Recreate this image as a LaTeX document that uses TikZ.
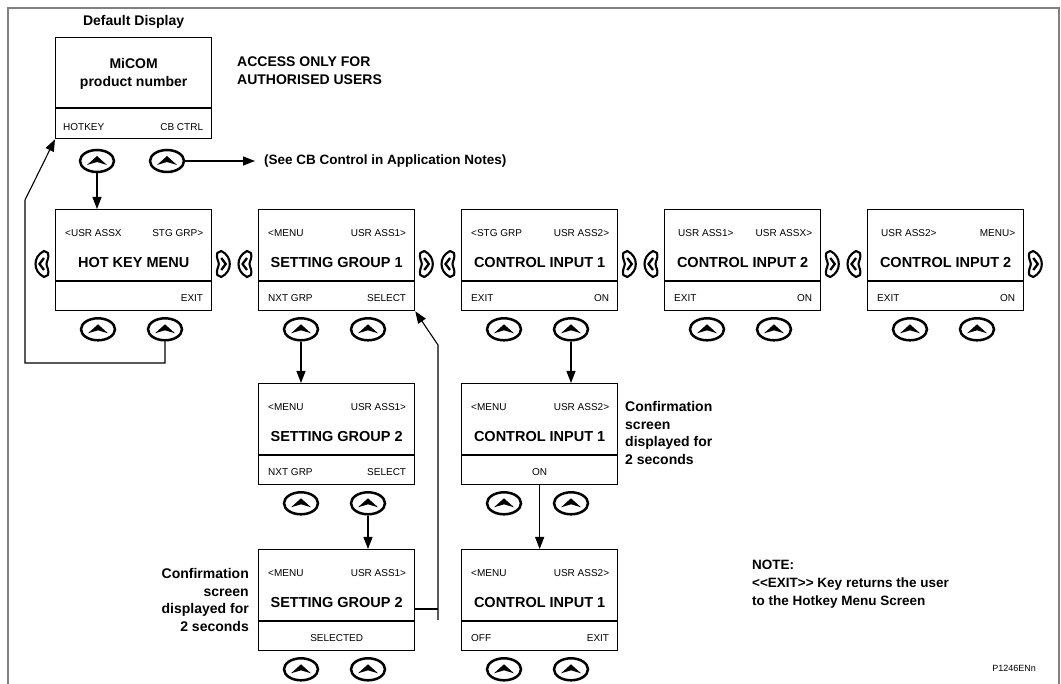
\documentclass[tikz,border=0pt]{standalone}
\usepackage{fontspec}
\setmainfont{Liberation Sans}
\usetikzlibrary{shapes.geometric,arrows.meta,calc}
\tikzset{
  keyline/.style={line width=2.1pt, line join=round, line cap=round},
  rkey/.pic={
    \draw[keyline] (-5pt,11pt) -- (-1pt,13pt) .. controls (5pt,10pt) and (7.5pt,5pt) .. (7.5pt,0pt)
      .. controls (7.5pt,-5pt) and (5pt,-10pt) .. (-1pt,-13pt) -- (-5pt,-11pt)
      .. controls (-6.5pt,-6pt) and (-3.5pt,-3pt) .. (-3.5pt,0pt)
      .. controls (-3.5pt,3pt) and (-6.5pt,6pt) .. (-5pt,11pt) -- cycle;
    \draw[line width=2.3pt, line join=miter] (-1pt,6pt) -- (3.5pt,0pt) -- (-1pt,-6pt);
  },
  lkey/.pic={
    \begin{scope}[xscale=-1]
    \draw[keyline] (-5pt,11pt) -- (-1pt,13pt) .. controls (5pt,10pt) and (7.5pt,5pt) .. (7.5pt,0pt)
      .. controls (7.5pt,-5pt) and (5pt,-10pt) .. (-1pt,-13pt) -- (-5pt,-11pt)
      .. controls (-6.5pt,-6pt) and (-3.5pt,-3pt) .. (-3.5pt,0pt)
      .. controls (-3.5pt,3pt) and (-6.5pt,6pt) .. (-5pt,11pt) -- cycle;
    \draw[line width=2.3pt, line join=miter] (-1pt,6pt) -- (3.5pt,0pt) -- (-1pt,-6pt);
    \end{scope}
  },
  screen/.style={draw, line width=1.3pt, anchor=north west, minimum width=156pt, minimum height=101pt, inner sep=0pt},
  small/.style={font=\fontsize{10}{12}\selectfont, inner sep=0pt},
  big/.style={font=\fontsize{14.5}{17}\selectfont\bfseries, inner sep=0pt},
  lbl/.style={font=\fontsize{14}{17.7}\selectfont\bfseries, inner sep=0pt},
  upkey/.style={ellipse, draw, line width=2.5pt, minimum width=34pt, minimum height=22pt, inner sep=0pt,
    path picture={\fill ([shift={(-10pt,-4pt)}]path picture bounding box.center) -- ++(10pt,9pt) -- ++(10pt,-9pt) -- ++(-10pt,3pt) -- cycle;}},
  conn/.style={line width=1.1pt},
  arr/.style={conn, -{Triangle[length=12pt,width=9pt]}},
}
\newcommand\mkscreen[6]{%
  \node[screen] (#1) at (#2,#3) {};
  \draw[line width=1.3pt] ($(#1.north west)+(0,72)$) -- ($(#1.north east)+(0,72)$);
  \node[small,anchor=west] (#1-tl) at ($(#1.north west)+(10,24)$) {#4};
  \node[small,anchor=east] (#1-tr) at ($(#1.north east)+(-9,24)$) {#5};
  \node[big] (#1-m) at ($(#1.north)+(0,54)$) {#6};
  \node[upkey] (#1-k1) at ($(#1.south west)+(43,18)$) {};
  \node[upkey] (#1-k2) at ($(#1.south west)+(110,18)$) {};
}
\newcommand\scrBL[2]{\node[small,anchor=west] (#1-bl) at ($(#1.north west)+(10,89)$) {#2};}
\newcommand\scrBR[2]{\node[small,anchor=east] (#1-br) at ($(#1.north east)+(-9,89)$) {#2};}
\newcommand\scrBC[2]{\node[small] (#1-bc) at ($(#1.north)+(0,89)$) {#2};}
\newcommand\sidekeys[1]{%
  \pic at ($(#1.north west)+(-12,55)$) {lkey};
  \pic at ($(#1.north east)+(10,55)$) {rkey};
}
\begin{document}
\begin{tikzpicture}[x=1pt,y=-1pt]
\useasboundingbox (0,0) rectangle (1061,684);
\draw[line width=2pt, color={rgb,255:red,128;green,128;blue,128}] (8,684) -- (8,8) -- (1059,8) -- (1059,684);

% default display
\node[screen] (def) at (55,37) {};
\draw[line width=1.3pt] ($(def.north west)+(0,71)$) -- ($(def.north east)+(0,71)$);
\node[lbl] (title) at ($(def.north)+(0,-15)$) {Default Display};
\node[lbl, align=center] (def-m) at ($(def.north)+(0,37)$) {MiCOM\\product number};
\node[small,anchor=west] (def-bl) at ($(def.north west)+(8,90)$) {HOTKEY};
\node[small,anchor=east] (def-br) at ($(def.north east)+(-9,90)$) {CB CTRL};
\node[upkey] (def-k1) at (97,161) {};
\node[upkey] (def-k2) at (167,161) {};
\node[lbl, align=left, anchor=west] (access) at (237,71) {ACCESS ONLY FOR\\AUTHORISED USERS};
\node[lbl, anchor=west, font=\fontsize{13.5}{16}\selectfont\bfseries] (cbnote) at (264,161) {(See CB Control in Application Notes)};

% row 1
\mkscreen{hk}{55}{209}{<USR ASSX}{STG GRP>}{HOT KEY MENU}
\scrBR{hk}{EXIT}
\mkscreen{sg1}{258}{209}{<MENU}{USR ASS1>}{SETTING GROUP 1}
\scrBL{sg1}{NXT GRP}\scrBR{sg1}{SELECT}
\mkscreen{ci1}{461}{209}{<STG GRP}{USR ASS2>}{CONTROL INPUT 1}
\scrBL{ci1}{EXIT}\scrBR{ci1}{ON}
\mkscreen{ci2}{664}{209}{\hspace{4pt}USR ASS1>}{USR ASSX>}{CONTROL INPUT 2}
\scrBL{ci2}{EXIT}\scrBR{ci2}{ON}
\mkscreen{ci3}{867}{209}{\hspace{4pt}USR ASS2>}{MENU>}{CONTROL INPUT 2}
\scrBL{ci3}{EXIT}\scrBR{ci3}{ON}
\sidekeys{hk}\sidekeys{sg1}\sidekeys{ci1}\sidekeys{ci2}\sidekeys{ci3}

% rows 2 and 3
\mkscreen{sg2}{258}{383}{<MENU}{USR ASS1>}{SETTING GROUP 2}
\scrBL{sg2}{NXT GRP}\scrBR{sg2}{SELECT}
\mkscreen{sgc}{258}{549}{<MENU}{USR ASS1>}{SETTING GROUP 2}
\scrBC{sgc}{SELECTED}
\mkscreen{cic}{461}{383}{<MENU}{USR ASS2>}{CONTROL INPUT 1}
\scrBC{cic}{ON}
\mkscreen{cif}{461}{549}{<MENU}{USR ASS2>}{CONTROL INPUT 1}
\scrBL{cif}{OFF}\scrBR{cif}{EXIT}

% notes
\node[lbl, align=right, anchor=east] (sgnote) at (249,600) {Confirmation\\screen\\displayed for\\2 seconds};
\node[lbl, align=left, anchor=west] (cinote) at (625,433) {Confirmation\\screen\\displayed for\\2 seconds};
\node[lbl, align=left, anchor=west, font=\fontsize{13.5}{18}\selectfont\bfseries] (note) at (752,584) {NOTE:\\<{}<EXIT>{}> Key returns the user\\to the Hotkey Menu Screen};
\node[font=\fontsize{9}{11}\selectfont, anchor=east, inner sep=0pt] (code) at (1036,668) {P1246ENn};

% connectors
\draw[arr, shorten >=9pt] (def-k2.east) -- (cbnote.west);
\draw[arr] (def-k1.south) -- (def-k1.south |- hk.north);
\draw[arr] (sg1-k1.south) -- (sg1-k1.south |- sg2.north);
\draw[arr] (ci1-k2.south) -- (ci1-k2.south |- cic.north);
\draw[arr] (sg2-k2.south) -- (sg2-k2.south |- sgc.north);
\draw[arr] (cic.south) -- (cif.north);
\coordinate (l1a) at (25,363);
\coordinate (l1b) at (25,200);
\draw[arr] (hk-k2.south) |- (l1a) -- (l1b) -- (def.south west);
\coordinate (l2a) at (438,620);
\coordinate (l2b) at (438,345);
\draw[arr] (l2a) -- (l2b) -- (sg1.south east);
\coordinate (sgcj) at ($(sgc.north east)+(0,60)$);
\draw[conn] (sgcj) -- (sgcj -| l2a);
\end{tikzpicture}
\end{document}
